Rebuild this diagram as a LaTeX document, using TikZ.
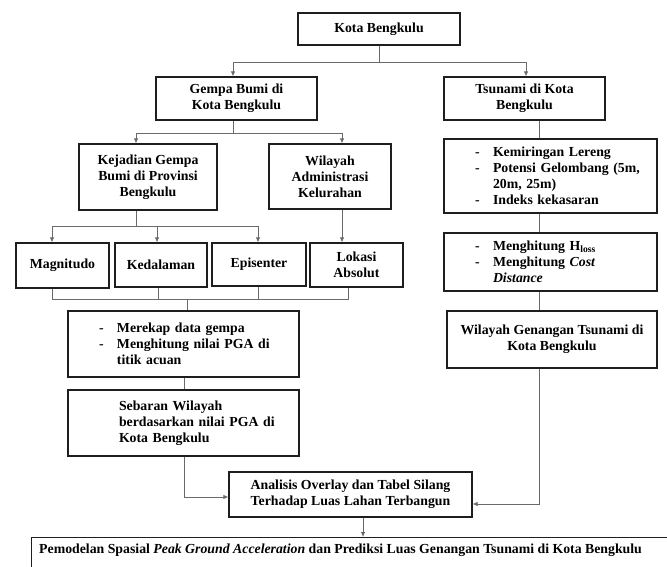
\documentclass[tikz,border=0pt]{standalone}
\usepackage{fontspec}
\setmainfont{Liberation Serif}
\usetikzlibrary{arrows.meta}
\definecolor{conncol}{HTML}{6A6A6A}
\definecolor{boxcol}{HTML}{1E1E1E}
\tikzset{
  box/.style={draw=boxcol, line width=1.2pt, rectangle, inner sep=0pt, align=center,
              font=\fontsize{13.8}{16}\selectfont\bfseries},
  listbox/.style={box, align=left, inner xsep=6pt},
  conn/.style={draw=conncol, line width=0.8pt},
  arr/.style={conn, -{Latex[length=5pt,width=4.5pt]}},
}
\newcommand{\dsh}{\makebox[18pt][l]{-}}
\begin{document}
\begin{tikzpicture}[x=1pt,y=-1pt]
\clip (0,0) rectangle (667,567);
\fill[white] (0,0) rectangle (667,567);

% boxes
\node[box, minimum width=162pt, minimum height=32pt] (kota) at (379,29) {Kota Bengkulu};
\node[box, minimum width=161pt, minimum height=43pt] (gempa) at (236.5,98.5) {Gempa Bumi di\\Kota Bengkulu};
\node[box, minimum width=161pt, minimum height=43pt] (tsunami) at (524.5,98.5) {Tsunami di Kota\\Bengkulu};
\node[box, minimum width=138pt, minimum height=66pt] (kejadian) at (148,177) {Kejadian Gempa\\Bumi di Provinsi\\Bengkulu};
\node[box, minimum width=122pt, minimum height=65pt] (wilayah) at (330,176.5) {Wilayah\\Administrasi\\Kelurahan};
\node[listbox, text width=201pt, minimum height=74pt] (kemiringan) at (550.5,176)
  {\hspace*{25pt}\dsh Kemiringan Lereng\\\hspace*{25pt}\dsh Potensi Gelombang (5m,\\\hspace*{43pt}20m, 25m)\\\hspace*{25pt}\dsh Indeks kekasaran};
\node[box, minimum width=93pt, minimum height=45pt] (magnitudo) at (62.5,265.5) {Magnitudo};
\node[box, minimum width=92pt, minimum height=44pt] (kedalaman) at (161,265) {Kedalaman};
\node[box, minimum width=94pt, minimum height=43pt] (episenter) at (259,264.5) {Episenter};
\node[box, minimum width=93pt, minimum height=44pt] (lokasi) at (356.5,265) {Lokasi\\Absolut};
\node[listbox, text width=219pt, minimum height=66pt] (merekap) at (183.5,344)
  {\hspace*{25pt}\dsh Merekap data gempa\\\hspace*{25pt}\dsh Menghitung nilai PGA di\\\hspace*{43pt}titik acuan};
\node[listbox, text width=219pt, minimum height=66pt] (sebaran) at (183.5,423)
  {\hspace*{45pt}Sebaran Wilayah\\\hspace*{45pt}berdasarkan nilai PGA di\\\hspace*{45pt}Kota Bengkulu};
\node[listbox, text width=201pt, minimum height=58pt] (menghitung) at (550.5,262)
  {\hspace*{25pt}\dsh Menghitung H\textsubscript{loss}\\\hspace*{25pt}\dsh Menghitung \textit{Cost}\\\hspace*{43pt}\textit{Distance}};
\node[box, minimum width=210pt, minimum height=57pt] (genangan) at (552,339.5) {Wilayah Genangan Tsunami di\\Kota Bengkulu};
\node[box, minimum width=243pt, minimum height=45pt] (analisis) at (350.5,494.5) {Analisis Overlay dan Tabel Silang\\Terhadap Luas Lahan Terbangun};
\node[box, minimum width=660pt, minimum height=50pt, anchor=north west] (pemodelan) at (31,537) {};
\node[anchor=west, inner sep=0pt, font=\fontsize{13.8}{16}\selectfont\bfseries] (pemtext) at (39,550)
  {Pemodelan Spasial \textit{Peak Ground Acceleration} dan Prediksi Luas Genangan Tsunami di Kota Bengkulu};

% connectors
\coordinate (j1) at (379,62);
\draw[conn] (kota.south) -- (j1);
\draw[arr] (j1) -| ([xshift=-3.5pt]gempa.north);
\draw[arr] (j1) -| ([xshift=1.5pt]tsunami.north);

\coordinate (j2) at (233,133);
\draw[conn] ([xshift=-3.5pt]gempa.south) -- (j2);
\draw[arr] (j2) -| ([xshift=-12pt]kejadian.north);
\draw[arr] (j2) -| ([xshift=12pt]wilayah.north);

\coordinate (j3) at (136,226);
\draw[conn] ([xshift=-12pt]kejadian.south) -- (j3);
\draw[arr] (j3) -| ([xshift=-10.5pt]magnitudo.north);
\draw[arr] (j3) -| ([xshift=-4pt]kedalaman.north);
\draw[arr] (j3) -| ([xshift=-1pt]episenter.north);
\draw[arr] ([xshift=12pt]wilayah.south) -- ([xshift=12pt]wilayah.south |- lokasi.north);

\coordinate (j4) at (187,299);
\draw[conn] ([xshift=-10.5pt]magnitudo.south) |- (j4);
\draw[conn] ([xshift=-3pt]kedalaman.south) |- (j4);
\draw[conn] ([xshift=-1pt]episenter.south) |- (j4);
\draw[conn] ([xshift=-8.5pt]lokasi.south) |- (j4);
\draw[conn] (j4) -- (j4 |- merekap.north);

\draw[conn] ([xshift=0.5pt]merekap.south) -- ([xshift=0.5pt]sebaran.north);
\draw[arr] ([xshift=0.5pt]sebaran.south) |- ([yshift=-2.5pt]analisis.west);

\draw[conn] ([xshift=14.5pt]tsunami.south) -- ([xshift=-11.5pt]kemiringan.north);
\draw[conn] ([xshift=-11.5pt]kemiringan.south) -- ([xshift=-11.5pt]menghitung.north);
\draw[conn] ([xshift=-11.5pt]menghitung.south) -- ([xshift=-13pt]genangan.north);
\draw[arr] ([xshift=-13pt]genangan.south) |- ([yshift=-9.5pt]analisis.east);

\draw[arr] ([xshift=12.5pt]analisis.south) -- ([xshift=12.5pt]analisis.south |- pemodelan.north);
\end{tikzpicture}
\end{document}
